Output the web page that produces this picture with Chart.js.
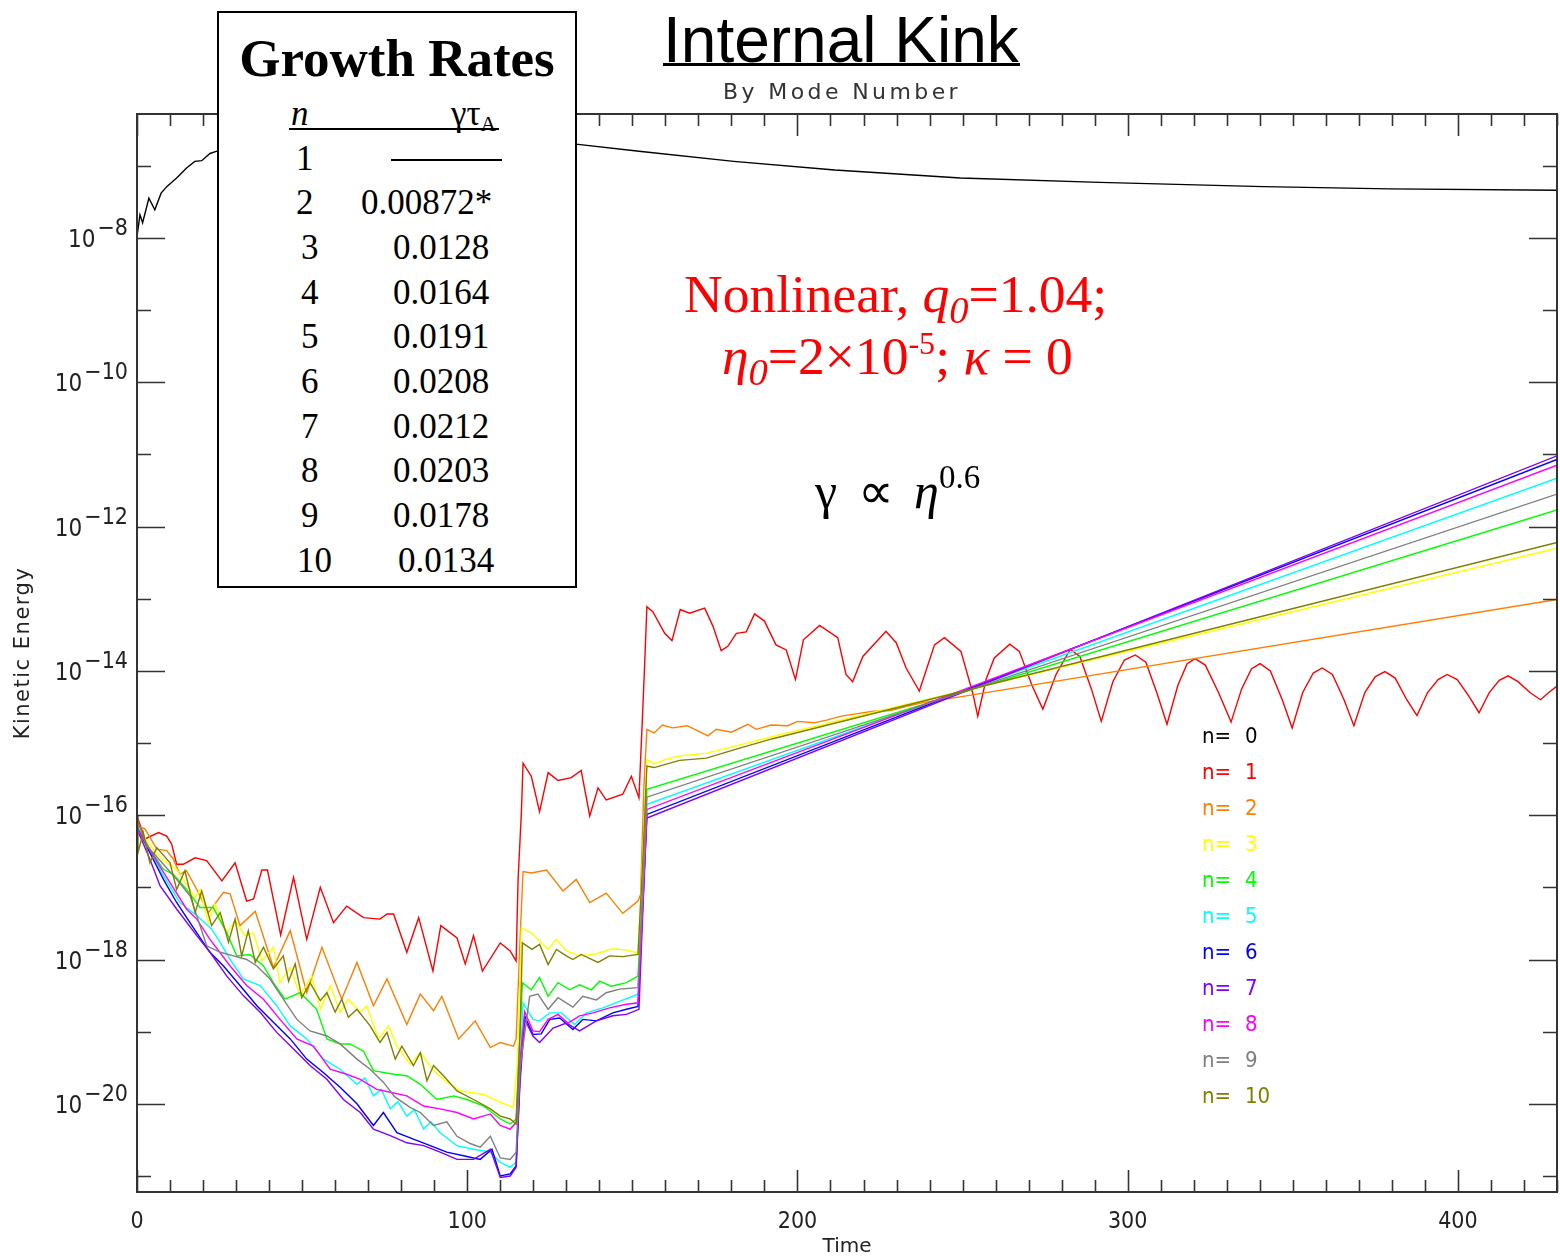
<!DOCTYPE html>
<html>
<head>
<meta charset="utf-8">
<script src="https://cdn.jsdelivr.net/npm/chart.js@4.4.1/dist/chart.umd.min.js"></script>
<style>
  body { margin: 0; background: #fff; }
  #wrap { position: relative; width: 1560px; height: 1257px; overflow: hidden; }
  #chart { position: absolute; left: 0; top: 0; }
  .txt { position: absolute; white-space: nowrap; line-height: 1; }
  .serif { font-family: "Liberation Serif", "Times New Roman", serif; }
  #title { left: 663px; top: 3px; font: 64px "Liberation Sans", Arial, sans-serif; color: #000; }
  #titleRule { position: absolute; left: 663px; top: 63px; width: 357px; height: 3px; background: #000; }
  #subtitle { left: 723px; top: 79px; font: 22px "DejaVu Sans", sans-serif; letter-spacing: 3.4px; color: #333; }
  #rates { position: absolute; left: 217px; top: 11px; width: 360px; height: 577px; box-sizing: border-box;
           border: 2px solid #000; background: #fff; }
  #rates .txt { font-size: 35px; color: #000; }
  #ratesTitle { left: 0; width: 100%; text-align: center; top: 19px; font-weight: bold; font-size: 53px !important; }
  .rule { position: absolute; height: 2px; background: #000; }
  .note { font-size: 53.5px; color: #ff0000; }
  .sb { font-size: 0.72em; position: relative; top: 0.28em; }
  .sp { font-size: 0.6em; position: relative; top: -0.62em; }
</style>
</head>
<body>
<div id="wrap">
  <canvas id="chart" width="1560" height="1257"></canvas>

  <div id="title" class="txt">Internal Kink</div>
  <div id="titleRule"></div>
  <div id="subtitle" class="txt">By Mode Number</div>

  <div id="rates">
    <div id="ratesTitle" class="txt serif">Growth Rates</div>
  </div>

  <div class="txt serif note" style="left:684px; top:268px;">Nonlinear, <i>q</i><i class="sb">0</i>=1.04;</div>
  <div class="txt serif note" style="left:722px; top:330px;"><i>η</i><i class="sb">0</i>=2×10<span class="sp">-5</span>; <i>κ</i> = 0</div>
  <div class="txt serif" style="left:815px; top:466px; font-size:50px; color:#000; word-spacing:8px;">γ ∝ <i>η</i><span class="sp" style="font-size:0.66em;">0.6</span></div>
</div>

<script>
// ---- data (log10 of kinetic energy vs time) ----
const modeNumbers = [0, 1, 2, 3, 4, 5, 6, 7, 8, 9, 10];
const modeColors = ['#000000', '#ff0000', '#ff7f00', '#ffff00', '#00ff00', '#00ffff',
                    '#0000ff', '#7f00ff', '#ff00ff', '#7f7f7f', '#7f7f00'];

const timeMajorTicks = [0, 100, 200, 300, 400];
const timeMinorStep = 10;
const keDecades = [-21, -20, -19, -18, -17, -16, -15, -14, -13, -12, -11, -10, -9, -8, -7];
const keLabelExponents = [-8, -10, -12, -14, -16, -18, -20];

// growth rate table (n, gamma*tau_A)
const rateModes = ['1', '2', '3', '4', '5', '6', '7', '8', '9', '10'];
const rateValues = ['', '0.00872*', '0.0128', '0.0164', '0.0191', '0.0208', '0.0212', '0.0203', '0.0178', '0.0134'];

// [time, log10 KE]
const logKE_n0 = [[0,-7.98],[0.9,-7.68],[1.7,-7.79],[3.6,-7.45],[5.4,-7.61],[7.3,-7.38],[9,-7.29],[12,-7.17],
  [15,-7.03],[17.5,-6.94],[19.6,-6.93],[22.1,-6.83],[24,-6.80],[40,-6.66],[70,-6.58],[100,-6.60],[132.9,-6.70],
  [152,-6.80],[180.7,-6.94],[211.3,-7.06],[249.4,-7.17],[291.5,-7.23],[341.1,-7.29],[379.3,-7.32],[430,-7.34]];

const logKE_n1 = [[0,-16.01],[2.4,-16.33],[6.5,-16.24],[9,-16.29],[10.5,-16.40],[12,-16.68],[14,-16.68],[17.6,-16.59],
  [21.1,-16.63],[25.7,-16.91],[29.7,-16.66],[33.2,-17.19],[35.3,-17.16],[37.8,-16.76],[39.5,-16.76],[43.5,-17.66],
  [47.4,-16.86],[51.4,-17.72],[55.5,-17.00],[59.5,-17.49],[63.5,-17.26],[68.6,-17.42],[73.6,-17.44],[75.7,-17.37],
  [77.7,-17.37],[81.7,-17.90],[85.3,-17.42],[89.6,-18.16],[92,-17.53],[96.9,-17.70],[99.4,-18.06],[101.9,-17.67],
  [104.6,-18.16],[110,-17.77],[113,-17.88],[114.8,-18.02],[115.4,-16.89],[116.4,-15.96],[116.9,-15.28],[119.4,-15.46],
  [121.9,-15.95],[124.5,-15.41],[127.5,-15.52],[131.5,-15.48],[134.5,-15.38],[137.1,-16.01],[139.6,-15.62],
  [142.1,-15.79],[147.1,-15.71],[149.7,-15.46],[152,-15.76],[153.2,-14.49],[153.7,-13.94],[154.4,-13.11],
  [156.2,-13.18],[159.8,-13.48],[162,-13.58],[164.5,-13.15],[167.3,-13.20],[171.9,-13.13],[174.4,-13.38],
  [176.9,-13.72],[178.9,-13.66],[181.5,-13.48],[184.5,-13.46],[187,-13.21],[190,-13.31],[193.5,-13.64],
  [196.6,-13.71],[199.4,-14.12],[201.8,-13.57],[206.7,-13.37],[212.2,-13.54],[214.7,-14.05],[216.7,-14.15],
  [219.8,-13.80],[226.8,-13.45],[229.9,-13.61],[232.9,-13.96],[236.9,-14.28],[241.5,-13.64],[244.5,-13.54],
  [249.5,-13.73],[253.1,-14.31],[254.6,-14.63],[257.1,-14.12],[259.6,-13.82],[264.3,-13.63],[267.2,-13.73],
  [271,-14.20],[274.3,-14.53],[278.3,-14.05],[282.6,-13.70],[285.5,-13.80],[289,-14.25],[292,-14.70],[295.5,-14.15],
  [299,-13.85],[302.3,-13.78],[305.5,-13.88],[308.8,-14.30],[311.9,-14.74],[315.2,-14.20],[318,-13.90],
  [320.4,-13.83],[323.5,-13.92],[327.5,-14.30],[331.3,-14.71],[334.5,-14.25],[337.5,-13.97],[340.1,-13.90],
  [343.2,-14.00],[346.8,-14.40],[349.8,-14.79],[353,-14.30],[356.2,-14.03],[358.9,-13.96],[362,-14.05],
  [365.5,-14.40],[368.5,-14.76],[371.8,-14.30],[375,-14.08],[377.9,-14.01],[381,-14.10],[384.5,-14.40],
  [387.6,-14.62],[390.8,-14.30],[394,-14.12],[396.7,-14.05],[399.8,-14.12],[403.3,-14.35],[406.4,-14.58],
  [409.5,-14.30],[412.5,-14.13],[415.2,-14.07],[418.2,-14.15],[421.8,-14.30],[425,-14.40],[427.5,-14.30],[430,-14.21]];

const logKE_n2 = [[0,-16.15],[2.4,-16.19],[6,-16.47],[9,-16.49],[11,-16.61],[13,-16.82],[15,-16.77],[18.1,-17.03],
  [21.6,-17.35],[26.2,-17.07],[28.2,-17.09],[31.2,-17.53],[35.8,-17.33],[41.3,-18.11],[46.4,-17.60],[51.4,-18.46],
  [56,-17.83],[62,-18.55],[66.6,-18.04],[71.6,-18.64],[75.7,-18.27],[81.7,-18.90],[85.8,-18.48],[89.8,-18.71],
  [92.3,-18.51],[97.4,-19.10],[102.4,-18.85],[107,-19.22],[110,-19.15],[114,-19.20],[114.8,-19.10],[116.2,-17.5],
  [116.9,-16.78],[119.4,-16.80],[124,-16.76],[129,-17.05],[133,-16.89],[137.1,-17.21],[142.1,-17.08],[147.1,-17.36],
  [151.7,-17.19],[152.5,-17.10],[153.5,-15.6],[154.4,-14.81],[156.6,-14.86],[159.1,-14.75],[162.1,-14.79],
  [166.6,-14.76],[172.9,-14.90],[175.4,-14.81],[180,-14.85],[185,-14.74],[187.5,-14.81],[192,-14.75],[197.1,-14.76],
  [200,-14.70],[205,-14.72],[209.1,-14.68],[213,-14.63],[217.1,-14.60],[223,-14.56],[228.1,-14.55],[233.1,-14.49],
  [238.1,-14.44],[243.2,-14.40],[249.2,-14.36],[430,-13.01]];

const logKE_n3 = [[0,-16.15],[3.9,-16.42],[8,-16.63],[12,-16.75],[17.6,-17.14],[19.1,-17.03],[21.6,-17.49],
  [23.6,-17.23],[27.2,-17.63],[29.7,-17.46],[32.7,-17.67],[35.3,-17.63],[37.8,-18.02],[41.3,-17.83],[43.3,-18.32],
  [46.4,-18.11],[49.4,-18.50],[52.9,-18.23],[55.5,-18.69],[58.5,-18.36],[61.5,-18.73],[64,-18.55],[67.6,-18.73],
  [69.6,-18.64],[73.1,-19.10],[76.2,-18.92],[78.7,-19.20],[82.7,-19.45],[85.8,-19.29],[89.8,-19.54],[93.8,-19.70],
  [97.9,-19.82],[105,-19.87],[109,-19.96],[114,-20.05],[115.2,-19.4],[116.4,-17.56],[119.4,-17.63],[124.5,-17.86],
  [127,-17.72],[130,-17.88],[134,-17.95],[139.1,-17.92],[144.1,-17.85],[148.2,-17.87],[151.7,-17.91],[153.2,-16.5],
  [154.4,-15.23],[156.6,-15.29],[159.8,-15.23],[164.3,-15.18],[172.4,-15.14],[180.4,-15.05],[192.5,-14.91],[430,-12.30]];

const logKE_n4 = [[0,-16.15],[3.9,-16.47],[8,-16.75],[11,-16.82],[15,-17.03],[19.1,-17.28],[23.1,-17.28],
  [27.2,-17.63],[30.2,-17.95],[34.2,-17.93],[38.3,-18.09],[41.3,-18.32],[44.8,-18.55],[49.4,-18.46],[54.4,-18.69],
  [57.5,-19.10],[61.5,-19.17],[64.5,-19.17],[68.6,-19.27],[71.6,-19.54],[77.7,-19.59],[81.7,-19.61],[85.8,-19.73],
  [90.8,-19.94],[95.9,-19.89],[99.9,-19.94],[105,-20.03],[110,-20.21],[113,-20.28],[114.8,-20.21],[116,-19.0],
  [116.7,-18.32],[119.4,-18.42],[121.9,-18.25],[124.5,-18.51],[127.5,-18.32],[131,-18.42],[134,-18.35],
  [137.6,-18.42],[140.1,-18.30],[143.6,-18.37],[148.2,-18.32],[151.7,-18.23],[153.2,-17.0],[154.4,-15.64],[430,-11.77]];

const logKE_n5 = [[0,-16.15],[8,-16.84],[13,-17.21],[18.1,-17.39],[22.6,-17.58],[25,-17.75],[28.2,-18.00],
  [32.2,-18.27],[37.3,-18.36],[42.3,-18.64],[46.4,-18.92],[51.4,-19.10],[56.5,-19.38],[61.5,-19.52],[66.6,-19.73],
  [69,-19.64],[71.6,-19.89],[74,-19.80],[76.7,-20.07],[79,-19.97],[81.7,-20.17],[84,-20.08],[86.8,-20.35],
  [89,-20.25],[91.8,-20.40],[96.9,-20.58],[101.9,-20.63],[107,-20.67],[110,-20.81],[113,-20.88],[114.8,-20.81],
  [116,-19.5],[116.9,-18.60],[119.9,-18.83],[121.9,-18.85],[125,-18.74],[128.5,-18.74],[132.5,-18.90],
  [136.1,-18.74],[141.1,-18.67],[146.1,-18.58],[151.7,-18.48],[153.2,-17.1],[154.4,-15.85],[430,-11.33]];

const logKE_n6 = [[0,-16.17],[3.9,-16.52],[8,-16.89],[12,-17.21],[18.1,-17.63],[22.1,-17.90],[26.2,-18.09],
  [31.2,-18.36],[36.3,-18.64],[41.3,-18.87],[46.4,-19.10],[51.4,-19.38],[56.5,-19.57],[61.5,-19.77],[66.6,-20.00],
  [71.6,-20.30],[74.6,-20.12],[78.7,-20.40],[83.7,-20.49],[88.8,-20.58],[93.8,-20.67],[98.9,-20.72],[103.9,-20.77],
  [107.5,-20.63],[110,-21.00],[113,-20.97],[114.8,-20.86],[116,-19.6],[117.4,-18.78],[119.9,-19.04],[122.4,-19.03],
  [125,-18.83],[128,-18.81],[132,-18.97],[135,-18.83],[139.1,-18.85],[144.1,-18.74],[148.2,-18.69],[151.7,-18.65],
  [153.2,-17.2],[154.4,-15.99],[430,-11.07]];

const logKE_n7 = [[0,-16.19],[3.9,-16.61],[7,-16.98],[12,-17.30],[18.1,-17.67],[22.1,-17.90],[27.2,-18.23],
  [32.2,-18.50],[37.3,-18.73],[42.3,-19.01],[47.4,-19.24],[52.4,-19.47],[57.5,-19.66],[62.5,-19.94],[67.6,-20.12],
  [71.6,-20.35],[76.7,-20.44],[81.7,-20.54],[86.8,-20.58],[91.8,-20.67],[96.9,-20.77],[101.9,-20.77],[107,-20.63],
  [110,-21.02],[113,-21.00],[114.8,-20.88],[116,-19.7],[117.4,-18.83],[119.9,-19.06],[121.9,-19.15],[126,-18.95],
  [130,-18.88],[134,-18.99],[139.1,-18.85],[144.1,-18.78],[148.2,-18.76],[152,-18.69],[153.2,-17.3],[154.4,-16.04],
  [430,-11.02]];

const logKE_n8 = [[0,-16.19],[8,-16.79],[15,-17.30],[18.1,-17.44],[22.1,-17.72],[28.2,-18.09],[33.2,-18.36],
  [38.3,-18.55],[43.3,-18.83],[48.4,-19.10],[53.4,-19.20],[58.5,-19.52],[63.5,-19.59],[67.6,-19.66],[72.6,-19.80],
  [76.7,-19.84],[81.7,-19.89],[86.8,-20.03],[91.8,-20.07],[96.9,-20.12],[101.9,-20.21],[107,-20.14],[110,-20.30],
  [113,-20.35],[114.8,-20.26],[116,-19.4],[117.4,-18.72],[119.9,-18.99],[121.9,-19.00],[124.5,-18.83],[127.5,-18.76],
  [130.5,-18.88],[134,-18.78],[138.1,-18.74],[143.1,-18.67],[148.2,-18.62],[151.7,-18.60],[153.2,-17.2],
  [154.4,-15.92],[430,-11.15]];

const logKE_n9 = [[0,-16.06],[2.9,-16.42],[8,-16.68],[12,-16.89],[16.1,-17.12],[21.1,-17.81],[25.2,-17.90],
  [29.2,-17.95],[33.2,-18.00],[36.3,-18.09],[40.3,-18.27],[44.3,-18.55],[48.4,-18.83],[52.4,-18.99],[57.5,-19.06],
  [61.5,-19.17],[66.6,-19.38],[70.6,-19.52],[74.6,-19.70],[78,-19.90],[82.7,-20.05],[85.8,-20.12],[89.8,-20.30],
  [93.8,-20.25],[96.9,-20.45],[100.9,-20.55],[103.9,-20.60],[107,-20.45],[110,-20.75],[113,-20.77],[114.8,-20.67],
  [116,-19.5],[118.9,-18.51],[121.4,-18.48],[124.5,-18.69],[127.5,-18.53],[132,-18.66],[135,-18.51],[139.1,-18.56],
  [142.1,-18.46],[146.1,-18.41],[151.7,-18.39],[153.2,-17.0],[154.4,-15.75],[430,-11.55]];

const logKE_n10 = [[0,-16.00],[0.3,-16.52],[1.9,-16.24],[3.9,-16.66],[6,-16.45],[10,-16.66],[12,-17.03],
  [14.5,-16.77],[17.6,-17.35],[19.6,-17.05],[22.6,-17.53],[25.2,-17.35],[27.7,-17.76],[29.7,-17.44],[31.7,-17.95],
  [33.7,-17.60],[35.8,-18.04],[38.3,-17.83],[41.3,-18.13],[44.3,-17.95],[45.9,-18.30],[47.9,-18.06],[49.9,-18.53],
  [52.4,-18.32],[55.5,-18.57],[57.5,-18.46],[60,-18.73],[62,-18.55],[64,-18.80],[66.6,-18.69],[70.6,-18.92],
  [73.6,-19.15],[75.7,-19.01],[78.2,-19.38],[80.2,-19.20],[83.7,-19.47],[85.8,-19.29],[87.8,-19.68],[89.8,-19.47],
  [92.8,-19.61],[96.9,-19.82],[101.9,-19.94],[107,-20.07],[110,-20.17],[113,-20.21],[114.8,-20.28],[116,-19.0],
  [116.7,-17.77],[119.6,-17.86],[121.9,-17.79],[124.5,-18.07],[127,-17.86],[130,-17.95],[132,-18.00],[134.5,-17.93],
  [139.6,-18.04],[143.1,-17.95],[147.1,-17.96],[151.7,-17.93],[153.2,-16.6],[154.4,-15.32],[156.6,-15.34],
  [164.3,-15.24],[172.4,-15.21],[182.5,-15.07],[192.5,-14.94],[430,-12.22]];

const modeSeries = [logKE_n0, logKE_n1, logKE_n2, logKE_n3, logKE_n4, logKE_n5,
                    logKE_n6, logKE_n7, logKE_n8, logKE_n9, logKE_n10];

// ---- growth rate table (html) ----
const rates = document.getElementById('rates');
const rowBase = [157, 201, 246, 291, 335, 380, 425, 469, 514, 559]; // baselines inside box
const modeLeft = [77, 77, 82, 82, 82, 82, 82, 82, 82, 78];
const valLeft = [0, 142, 174, 174, 174, 174, 174, 174, 174, 179];
function addText(html, left, baseline, extra) {
  const d = document.createElement('div');
  d.className = 'txt serif';
  d.style.left = left + 'px';
  d.style.top = (baseline - 29.3) + 'px';
  if (extra) d.style.cssText += extra;
  d.innerHTML = html;
  rates.appendChild(d);
}
addText('<i>n</i>', 72, 112);
addText('γτ<span style="font-size:0.62em;position:relative;top:0.3em;">A</span>', 232, 112);
const hdr = document.createElement('div'); hdr.className = 'rule';
hdr.style.cssText += 'left:70px;top:115px;width:210px;';
rates.appendChild(hdr);
rateModes.forEach((m, i) => {
  addText(m, modeLeft[i], rowBase[i]);
  if (rateValues[i]) addText(rateValues[i], valLeft[i], rowBase[i]);
  else {
    const r = document.createElement('div'); r.className = 'rule';
    r.style.cssText += 'left:172px;top:' + (rowBase[i] - 11) + 'px;width:111px;';
    rates.appendChild(r);
  }
});

// ---- chart ----
const axisFont = '"Liberation Sans Narrow", "DejaVu Sans Condensed", "DejaVu Sans", sans-serif';
const titleFont = '"DejaVu Sans", sans-serif';

const frameAndTicks = {
  id: 'frameAndTicks',
  afterDraw(chart) {
    const ctx = chart.ctx, a = chart.chartArea;
    const xs = chart.scales.x, ys = chart.scales.y;
    ctx.save();
    ctx.strokeStyle = '#333';
    ctx.lineWidth = 2;
    ctx.strokeRect(a.left, a.top, a.right - a.left, a.bottom - a.top);
    ctx.lineWidth = 1.6;
    ctx.beginPath();
    xs.ticks.forEach(t => {
      const x = Math.round(xs.getPixelForValue(t.value)) + 0.5;
      const len = timeMajorTicks.includes(t.value) ? 22 : 12;
      ctx.moveTo(x, a.bottom); ctx.lineTo(x, a.bottom - len);
      ctx.moveTo(x, a.top); ctx.lineTo(x, a.top + len);
    });
    ys.ticks.forEach(t => {
      const e = Math.round(Math.log10(t.value));
      const y = Math.round(ys.getPixelForValue(t.value)) + 0.5;
      const len = keLabelExponents.includes(e) ? 28 : 14;
      ctx.moveTo(a.left, y); ctx.lineTo(a.left + len, y);
      ctx.moveTo(a.right, y); ctx.lineTo(a.right - len, y);
    });
    ctx.stroke();

    // y tick labels: 10 with superscript exponent
    ctx.fillStyle = '#222';
    ctx.textBaseline = 'alphabetic';
    ys.ticks.forEach(t => {
      const e = Math.round(Math.log10(t.value));
      if (!keLabelExponents.includes(e)) return;
      const y = ys.getPixelForValue(t.value);
      const sup = '\u2212' + Math.abs(e);
      ctx.textAlign = 'right';
      ctx.font = '23px ' + axisFont;
      ctx.fillText(sup, a.left - 9, y - 3);
      const w = ctx.measureText(sup).width;
      ctx.font = '24px ' + axisFont;
      ctx.fillText('10', a.left - 9 - w - 2, y + 9);
    });

    // axis titles
    ctx.font = '20px ' + titleFont;
    ctx.textAlign = 'center';
    ctx.textBaseline = 'middle';
    ctx.fillText('Time', (a.left + a.right) / 2, 1247);
    ctx.save();
    ctx.translate(24, (a.top + a.bottom) / 2);
    ctx.rotate(-Math.PI / 2);
    ctx.font = '21px ' + titleFont;
    ctx.letterSpacing = '1.5px';
    ctx.fillText('Kinetic Energy', 0, 0);
    ctx.restore();

    // legend
    ctx.textAlign = 'left';
    ctx.font = '22px ' + axisFont;
    modeNumbers.forEach((n, i) => {
      const y = 737 + i * 36;
      ctx.fillStyle = modeColors[i];
      ctx.fillText('n=', 1202, y);
      ctx.fillText(String(n), 1245, y);
    });
    ctx.restore();
  }
};

const xTickValues = [];
for (let v = 0; v <= 430; v += timeMinorStep) xTickValues.push(v);

new Chart(document.getElementById('chart'), {
  type: 'line',
  data: {
    datasets: modeSeries.map((pts, i) => ({
      label: 'n= ' + modeNumbers[i],
      data: pts.map(([t, l]) => ({ x: t, y: Math.pow(10, l) })),
      borderColor: modeColors[i],
      borderWidth: 1.4,
      pointRadius: 0,
      tension: 0,
      fill: false,
      order: 10 - i
    }))
  },
  options: {
    responsive: false,
    devicePixelRatio: 1,
    animation: false,
    layout: { padding: { top: 114, right: 3, left: 0, bottom: 0 } },
    plugins: { legend: { display: false }, tooltip: { enabled: false } },
    scales: {
      x: {
        type: 'linear', min: 0, max: 430,
        grid: { display: false, drawTicks: false },
        border: { display: false },
        afterBuildTicks: s => { s.ticks = xTickValues.map(v => ({ value: v })); },
        afterFit: s => { s.height = 65; s.paddingLeft = 0; s.paddingRight = 0; },
        ticks: {
          autoSkip: false, maxRotation: 0, minRotation: 0, padding: 16,
          color: '#222', font: { family: axisFont, size: 23 },
          callback: v => timeMajorTicks.includes(v) ? String(v) : ''
        }
      },
      y: {
        type: 'logarithmic', min: Math.pow(10, -21.213), max: Math.pow(10, -6.283),
        grid: { display: false, drawTicks: false },
        border: { display: false },
        afterBuildTicks: s => { s.ticks = keDecades.map(e => ({ value: Math.pow(10, e) })); },
        afterFit: s => { s.width = 137; s.paddingTop = 0; s.paddingBottom = 0; },
        ticks: { display: false }
      }
    }
  },
  plugins: [frameAndTicks]
});
</script>
</body>
</html>
